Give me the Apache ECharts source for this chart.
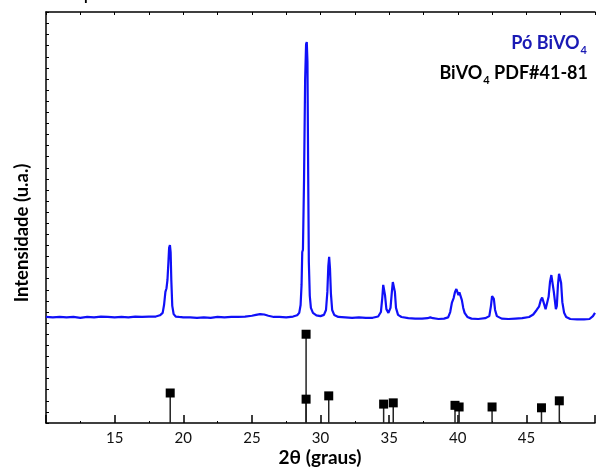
<!DOCTYPE html>
<html>
<head>
<meta charset="utf-8">
<script src="https://cdn.jsdelivr.net/npm/echarts@6/dist/echarts.min.js"></script>
<style>
html,body{margin:0;padding:0;background:#fff;}
#chart{width:598px;height:468px;}
</style>
</head>
<body>
<div id="chart"></div>
<script>
// difratograma do pó (2theta, intensidade)
var xrdAngle = [10.0,10.5,11.0,11.5,12.0,12.5,13.0,13.5,14.0,14.5,15.0,15.5,16.0,16.5,17.0,17.5,18.0,18.3,18.5,18.6,18.7,18.78,18.85,18.92,18.97,19.03,19.08,19.13,19.2,19.3,19.45,19.7,20.0,20.5,21.0,21.5,22.0,22.5,23.0,23.5,24.0,24.5,25.0,25.3,25.6,25.9,26.2,26.6,27.0,27.5,28.0,28.3,28.45,28.55,28.62,28.67,28.72,28.8,28.88,28.95,29.0,29.05,29.1,29.15,29.22,29.3,29.45,29.7,30.0,30.25,30.4,30.5,30.57,30.63,30.69,30.76,30.85,31.0,31.3,31.8,32.3,32.8,33.3,33.8,34.2,34.4,34.5,34.57,34.63,34.7,34.8,34.95,35.1,35.2,35.27,35.34,35.42,35.5,35.65,35.9,36.4,36.9,37.4,37.8,38.0,38.2,38.6,39.0,39.3,39.45,39.57,39.7,39.8,39.9,39.97,40.05,40.12,40.2,40.3,40.4,40.5,40.7,41.0,41.5,42.0,42.3,42.42,42.5,42.56,42.63,42.72,42.85,43.2,43.7,44.2,44.7,45.2,45.5,45.75,45.92,46.05,46.15,46.25,46.4,46.5,46.62,46.72,46.82,46.9,47.0,47.15,47.22,47.3,47.38,47.45,47.53,47.62,47.75,47.9,48.2,48.7,49.2,49.6,49.85,50.0];
var xrdIntensity = [258,257,258,257,258,256,258,257,259,258,257,258,257,259,258,259,259,262,268,287,319,328,348,392,426,433,416,348,285,265,259,258,257,257,256,257,256,258,257,258,258,259,261,263,265,264,261,258,258,257,259,262,268,287,336,416,421,591,835,922,927,878,616,392,309,280,268,262,260,263,275,319,382,404,377,314,275,263,258,257,256,257,256,256,259,270,304,336,338,311,277,268,280,319,343,344,319,280,263,258,255,254,254,255,257,255,253,254,257,270,292,304,319,326,319,311,318,316,299,280,268,258,254,253,255,260,285,309,313,302,275,260,254,253,254,255,258,264,275,283,299,305,294,277,280,307,343,360,358,319,277,285,336,363,364,341,294,268,258,253,252,252,253,260,268];

// padrão de referência PDF#41-81
var refAngle = [19.05,28.95,28.95,30.6,34.6,35.3,39.8,40.1,42.5,46.1,47.4];
var refIntensity = [73,216,58,66,46,49,43,39,39,37,54];

var xTicks = [15,20,25,30,35,40,45];

var font = 'Lato, "Liberation Sans", sans-serif';

var xrdData = xrdAngle.map(function(a,i){return [a, xrdIntensity[i]]});
var refData = refAngle.map(function(a,i){return [a, refIntensity[i]]});

var chart = echarts.init(document.getElementById('chart'));

function subText(color){
    return {
        n:{fontSize:18,fontWeight:'bold',fontFamily:font,fill:color,lineHeight:22,verticalAlign:'top'},
        s:{fontSize:11,fontWeight:'bold',fontFamily:font,fill:color,lineHeight:13,padding:[13,0,0,1],verticalAlign:'bottom'}
    }
}

var option = {
    animation:false,
    grid:{
        left:46,
        right:0,
        top:12,
        bottom:45
    },
    xAxis:[
        {
            type:'value',
            min:10,
            max:50,
            interval:5,
            position:'bottom',
            axisLine:{lineStyle:{color:'#000',width:1.5}},
            axisTick:{inside:true,length:8,lineStyle:{color:'#000',width:1.5}},
            minorTick:{show:true,splitNumber:2,length:2,lineStyle:{color:'#000',width:1}},
            splitLine:{show:false},
            axisLabel:{
                fontSize:15,
                color:'#111',
                margin:8,
                fontFamily:font,
                formatter:function(v){return xTicks.indexOf(v) >= 0 ? String(v) : ''}
            }
        },
        {
            type:'value',
            min:10,
            max:50,
            interval:2.5,
            position:'top',
            axisLine:{lineStyle:{color:'#000',width:1.5}},
            axisTick:{inside:true,length:3,lineStyle:{color:'#000',width:1}},
            splitLine:{show:false},
            axisLabel:{show:false}
        }
    ],
    yAxis:{
        type:'value',
        min:0,
        max:1000,
        interval:27,
        axisLine:{show:true,lineStyle:{color:'#000',width:1.5}},
        axisTick:{show:true,inside:true,length:3,lineStyle:{color:'#000',width:1}},
        splitLine:{show:false},
        axisLabel:{show:false}
    },
    series:[
        {
            name:'Pó BiVO4',
            type:'line',
            data:xrdData,
            showSymbol:false,
            lineStyle:{color:'#1010f8',width:2.2},
            z:3
        },
        {
            // hastes
            type:'bar',
            data:refData,
            barWidth:1.5,
            itemStyle:{color:'#222'},
            z:2
        },
        {
            // quadrados
            type:'scatter',
            data:refData,
            symbol:'rect',
            symbolSize:9,
            itemStyle:{color:'#000',opacity:1},
            z:4
        }
    ],
    graphic:[
        {
            type:'text',
            right:11,
            top:32,
            style:{
                text:'{n|Pó BiVO}{s|4}',
                fill:'#1a1ab4',
                rich:subText('#1a1ab4')
            }
        },
        {
            type:'text',
            right:10,
            top:62,
            style:{
                text:'{n|BiVO}{s|4}{n| PDF#41-81}',
                fill:'#000',
                rich:subText('#000')
            }
        },
        {
            type:'text',
            x:22,
            y:233,
            rotation:Math.PI/2,
            style:{
                text:'Intensidade (u.a.)',
                fontSize:18.5,
                fontWeight:'bold',
                fontFamily:font,
                fill:'#000',
                align:'center',
                verticalAlign:'middle'
            }
        },
        {
            type:'text',
            x:320,
            y:458,
            style:{
                text:'2θ (graus)',
                fontSize:19,
                fontWeight:'bold',
                fontFamily:font,
                fill:'#000',
                align:'center',
                verticalAlign:'middle'
            }
        },
        {
            // resto do título cortado no topo
            type:'text',
            x:84,
            y:-12,
            style:{
                text:'p',
                fontSize:15,
                fontWeight:'bold',
                fontFamily:font,
                fill:'#000'
            }
        }
    ]
};

chart.setOption(option);
</script>
</body>
</html>
